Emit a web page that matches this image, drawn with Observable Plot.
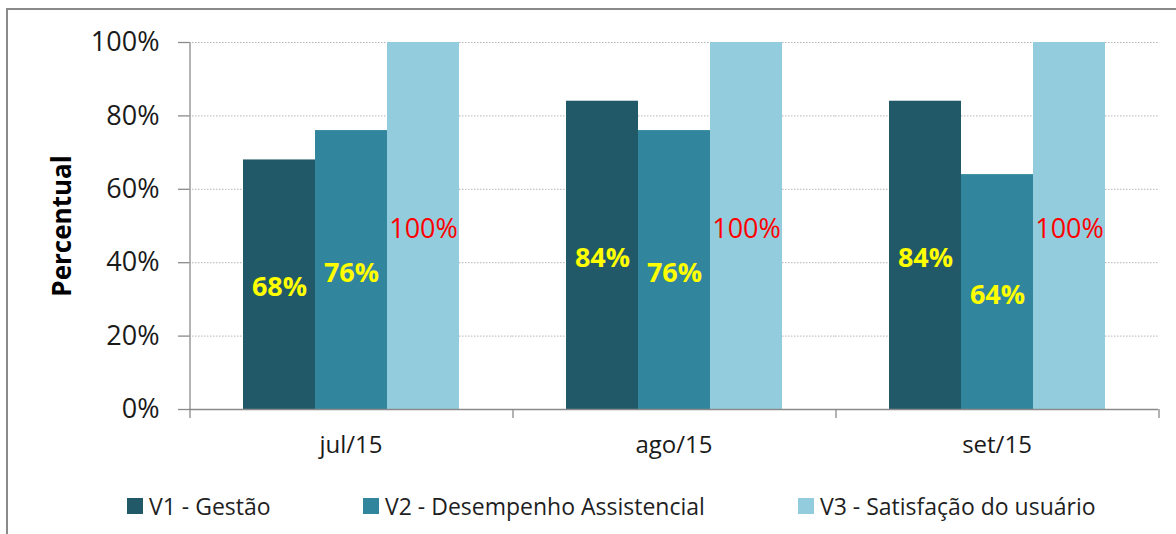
<!DOCTYPE html>
<html>
<head>
<meta charset="utf-8">
<script src="https://cdn.jsdelivr.net/npm/d3@7"></script>
<script src="https://cdn.jsdelivr.net/npm/@observablehq/plot@0.6"></script>
<style>
  html, body { margin: 0; padding: 0; background: #fff; overflow: hidden; }
  body { width: 1176px; height: 534px; position: relative; font-family: 'Open Sans', sans-serif; }
  #border { position: absolute; left: 6px; top: 8px; width: 1400px; height: 800px;
            border-left: 2px solid #8a8a8a; border-top: 2px solid #8a8a8a; pointer-events: none; }
  #chart { position: absolute; left: 0; top: 0; }
  #legend { position: absolute; left: 127px; top: 490px; height: 32px; display: flex; align-items: center;
            font-size: 23px; color: #1f1f1f; }
  .item { display: flex; align-items: center; }
  .sw { width: 16px; height: 16px; margin-right: 6px; flex: none; }
</style>
</head>
<body>
<div id="border"></div>
<div id="chart"></div>
<div id="legend"></div>
<script>
const months = ["jul/15", "ago/15", "set/15"];
const series = ["V1 - Gestão", "V2 - Desempenho Assistencial", "V3 - Satisfação do usuário"];
const v1 = [68, 84, 84];
const v2 = [76, 76, 64];
const v3 = [100, 100, 100];
const colors = ["#215968", "#31859C", "#93CDDD"];
const yTicks = [0, 20, 40, 60, 80, 100];

const values = [v1, v2, v3];
const data = months.flatMap((m, i) => series.map((s, j) => ({month: m, series: s, value: values[j][i]})));

const W = 1176, H = 480, ML = 189, MR = 18, MT = 42, MB = 71;
const pOuter = 0.743;
const facetW = (W - ML - MR) / months.length;
const step = facetW / (series.length + 2 * pOuter);
const edge = step * (0.5 + pOuter);

const chart = Plot.plot({
  width: W, height: H,
  marginLeft: ML, marginRight: MR, marginTop: MT, marginBottom: MB,
  style: {fontFamily: "'Open Sans', sans-serif", background: "transparent", overflow: "visible"},
  fx: {domain: months, padding: 0, label: null},
  x: {domain: series, axis: null, paddingInner: 0, paddingOuter: pOuter},
  y: {domain: [0, 100], label: null},
  color: {domain: series, range: colors},
  marks: [
    Plot.gridY(yTicks.filter(t => t > 0), {stroke: "#b5b5b5", strokeOpacity: 1, strokeDasharray: "1.5,1.5"}),
    Plot.barY(data, {fx: "month", x: "series", y: "value", fill: "series"}),
    Plot.ruleY([0], {stroke: "#8a8a8a", strokeWidth: 1.3}),
    Plot.ruleX(months, {fx: d => d, x: () => series[series.length - 1], dx: edge, y1: 0, y2: 0, insetBottom: -9, stroke: "#8a8a8a", strokeWidth: 1.3}),
    Plot.ruleX([months[0]], {fx: d => d, x: () => series[0], dx: -edge, y1: 100, y2: 0, insetBottom: -9, stroke: "#8a8a8a", strokeWidth: 1.3}),
    Plot.text(data.filter(d => d.series !== series[2]), {
      fx: "month", x: "series", y: d => d.value / 2, text: d => d.value + "%",
      fill: "#FFFF00", fontWeight: "bold", fontSize: 27, dy: 3
    }),
    Plot.text(data.filter(d => d.series === series[2]), {
      fx: "month", x: "series", y: d => d.value / 2, text: d => d.value + "%",
      fill: "#FF0000", fontSize: 27, dy: 3
    }),
    Plot.axisY(yTicks, {tickSize: 11, tickPadding: 19, fontSize: 27, tickFormat: d => d + "%",
      label: null, stroke: "#8a8a8a", fill: "#1a1a1a", strokeWidth: 1.3}),
    Plot.axisY({ticks: [], label: "Percentual", labelAnchor: "center", labelOffset: 137, labelArrow: "none",
      fontSize: 26, fontWeight: "bold", fill: "#000"}),
    Plot.axisFx({anchor: "bottom", tickSize: 0, tickPadding: 26, fontSize: 24, label: null, fill: "#1a1a1a"})
  ]
});
document.getElementById("chart").appendChild(chart);

const legend = document.getElementById("legend");
const itemWidths = [236, 435, null];
series.forEach((s, i) => {
  const it = document.createElement("div");
  it.className = "item";
  if (itemWidths[i]) it.style.width = itemWidths[i] + "px";
  const sw = document.createElement("span");
  sw.className = "sw";
  sw.style.background = colors[i];
  const tx = document.createElement("span");
  tx.textContent = s;
  it.appendChild(sw);
  it.appendChild(tx);
  legend.appendChild(it);
});
</script>
</body>
</html>
